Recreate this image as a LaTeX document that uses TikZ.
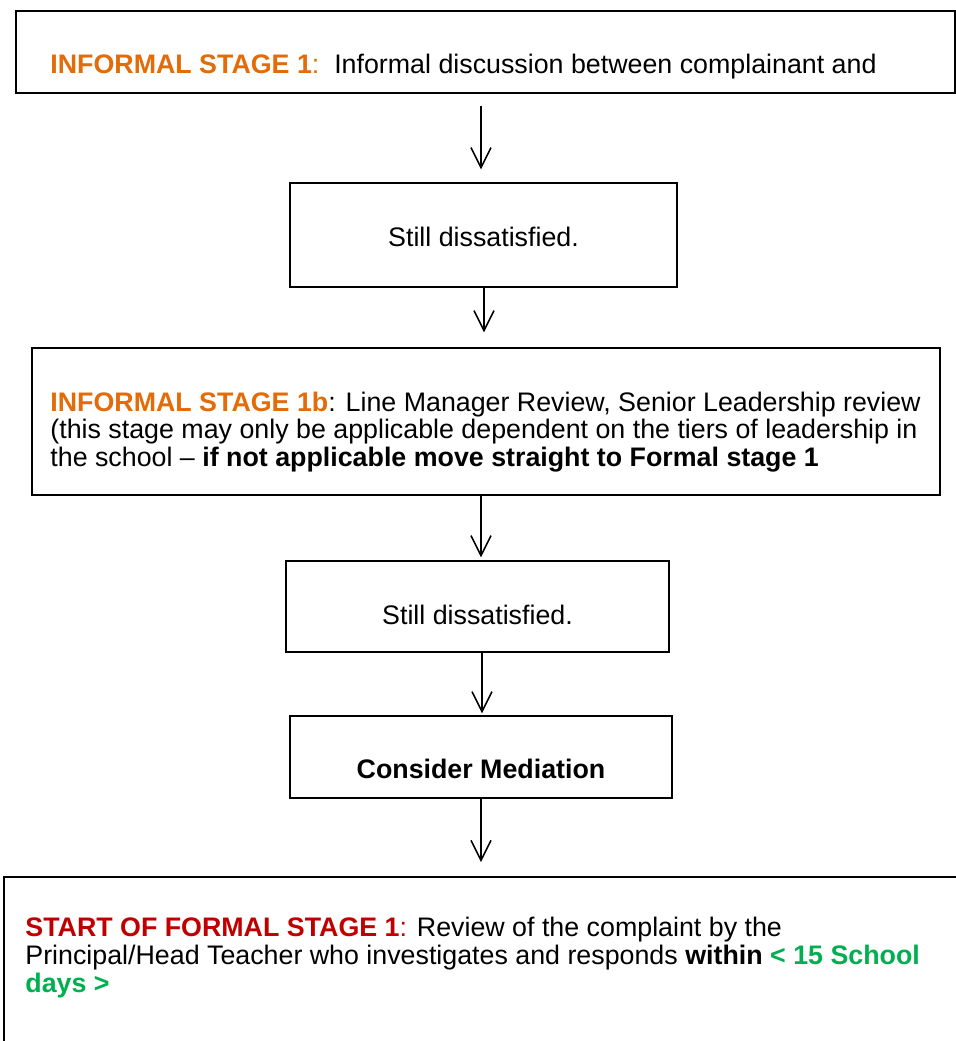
\documentclass[tikz,border=0pt]{standalone}
\usepackage{fontspec}
\setmainfont{Liberation Sans}
\usetikzlibrary{arrows.meta,positioning}
\definecolor{stageorange}{HTML}{E36C09}
\definecolor{stagered}{HTML}{C00000}
\definecolor{stagegreen}{HTML}{00B050}
\tikzset{
  stagebox/.style={draw, line width=0.75pt, inner sep=0pt},
  stagetext/.style={inner sep=0pt, font=\fontsize{13.4}{13.8}\selectfont},
  flow/.style={line width=0.75pt, -{Straight Barb[length=10pt,width=10pt,line width=0.75pt]}}
}
\begin{document}
\begin{tikzpicture}[x=0.5pt, y=-0.5pt]
    \clip (0,0) rectangle (956,1041);
    \fill[white] (0,0) rectangle (956,1041);

    % informal stage 1
    \node[stagebox, minimum width=469.5pt, minimum height=41pt] (inf1) at (485.5,52) {};
    \node[stagetext, anchor=base west] (inf1txt) at (50,73)
        {\textcolor{stageorange}{\textbf{INFORMAL STAGE 1}:}\ \ Informal discussion between complainant and};

    \node[stagebox, minimum width=193.5pt, minimum height=52pt] (still1) at (483.5,235) {};
    \node[stagetext, anchor=base] (still1txt) at (483.5,246) {Still dissatisfied.};

    % informal stage 1b (base = last line)
    \node[stagebox, minimum width=454pt, minimum height=73.5pt] (inf1b) at (486,421.5) {};
    \node[stagetext, anchor=base west, align=left] (inf1btxt) at (50,466.5)
        {\textcolor{stageorange}{\textbf{INFORMAL STAGE 1b}}: Line Manager Review, Senior Leadership review\\
         (this stage may only be applicable dependent on the tiers of leadership in\\
         the school – \textbf{if not applicable move straight to Formal stage 1}};

    \node[stagebox, minimum width=191.5pt, minimum height=45.5pt] (still2) at (477.5,606.5) {};
    \node[stagetext, anchor=base] (still2txt) at (477.5,624) {Still dissatisfied.};

    \node[stagebox, minimum width=191pt, minimum height=41pt] (mediate) at (481,757) {};
    \node[stagetext, anchor=base] (mediatetxt) at (481,778) {\textbf{Consider Mediation}};

    % formal stage 1 (runs off the page)
    \node[stagebox, anchor=north west, minimum width=500pt, minimum height=120pt] (form1) at (3,876) {};
    \node[stagetext, anchor=base west, align=left] (form1txt) at (25,992)
        {\textcolor{stagered}{\textbf{START OF FORMAL STAGE 1}:} Review of the complaint by the\\
         Principal/Head Teacher who investigates and responds \textbf{within \textcolor{stagegreen}{< 15 School}}\\
         \textcolor{stagegreen}{\textbf{days >}}};

    % arrows
    \draw[flow, shorten <=6pt, shorten >=6.5pt] (481,0 |- inf1.south) -- (481,0 |- still1.north);
    \draw[flow, shorten >=7.5pt] (484,0 |- still1.south) -- (484,0 |- inf1b.north);
    \draw[flow, shorten >=1.5pt] (481,0 |- inf1b.south) -- (481,0 |- still2.north);
    \draw[flow, shorten >=1pt] (482,0 |- still2.south) -- (482,0 |- mediate.north);
    \draw[flow, shorten >=7pt] (481,0 |- mediate.south) -- (481,0 |- form1.north);
\end{tikzpicture}
\end{document}
